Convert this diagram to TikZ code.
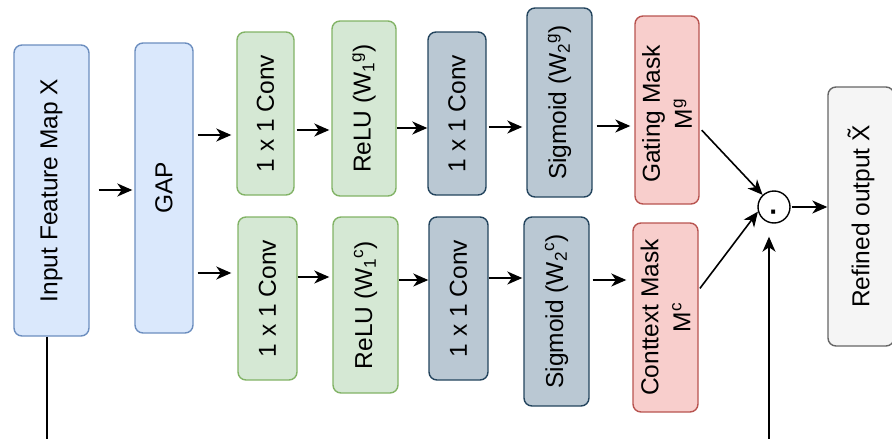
\documentclass[tikz,border=0pt]{standalone}
\usepackage{fontspec}
\setmainfont{Liberation Sans}
\usetikzlibrary{arrows.meta}

\definecolor{blueF}{HTML}{DAE8FC}\definecolor{blueD}{HTML}{6C8EBF}
\definecolor{greenF}{HTML}{D5E8D4}\definecolor{greenD}{HTML}{82B366}
\definecolor{slateF}{HTML}{BAC8D3}\definecolor{slateD}{HTML}{23445D}
\definecolor{redF}{HTML}{F8CECC}\definecolor{redD}{HTML}{B85450}
\definecolor{grayF}{HTML}{F5F5F5}\definecolor{grayD}{HTML}{666666}

\begin{document}
\begin{tikzpicture}[x=1pt,y=-1pt,
  box/.style={rectangle, rounded corners=8pt, line width=1.4pt, inner sep=0pt},
  bluebox/.style={box, fill=blueF, draw=blueD},
  greenbox/.style={box, fill=greenF, draw=greenD},
  slatebox/.style={box, fill=slateF, draw=slateD},
  redbox/.style={box, fill=redF, draw=redD},
  graybox/.style={box, fill=grayF, draw=grayD},
  lbl/.style={rotate=90, font=\fontsize{24.5}{32}\selectfont, align=center, inner sep=0pt},
  arr/.style={line width=1.6pt, -{Stealth[length=15pt,width=13pt,inset=4.5pt]}}]
\useasboundingbox (0,0) rectangle (892,439);
\clip (0,0) rectangle (892,439);

% input and pooling
\node[bluebox, minimum width=75pt, minimum height=291pt] (in) at (51.5,190.5) {};
\node[lbl] (in-t) at (in) {Input Feature Map X};
\node[bluebox, minimum width=58pt, minimum height=290pt] (gap) at (164,188) {};
\node[lbl] (gap-t) at (gap) {GAP};

% gating branch
\node[greenbox, minimum width=57pt, minimum height=163pt] (c1g) at (265.5,113.5) {};
\node[lbl] (c1g-t) at (c1g) {1 x 1 Conv};
\node[greenbox, minimum width=64pt, minimum height=175pt] (rg) at (364,108.5) {};
\node[lbl] (rg-t) at (rg) {ReLU (W\textsubscript{1}\textsuperscript{g})};
\node[slatebox, minimum width=58pt, minimum height=163pt] (c2g) at (457,113.5) {};
\node[lbl] (c2g-t) at (c2g) {1 x 1 Conv};
\node[slatebox, minimum width=65pt, minimum height=189pt] (sg) at (559.5,102.5) {};
\node[lbl] (sg-t) at (sg) {Sigmoid (W\textsubscript{2}\textsuperscript{g})};
\node[redbox, minimum width=64pt, minimum height=188pt] (gm) at (667,110) {};
\node[lbl] (gm-t) at ([yshift=-4pt]gm.center) {Gating Mask\\M\textsuperscript{g}};

% context branch
\node[greenbox, minimum width=59pt, minimum height=163pt] (c1c) at (267.5,298.5) {};
\node[lbl] (c1c-t) at (c1c) {1 x 1 Conv};
\node[greenbox, minimum width=65pt, minimum height=176pt] (rc) at (365.5,305) {};
\node[lbl] (rc-t) at (rc) {ReLU (W\textsubscript{1}\textsuperscript{c})};
\node[slatebox, minimum width=59pt, minimum height=163pt] (c2c) at (458.5,298.5) {};
\node[lbl] (c2c-t) at (c2c) {1 x 1 Conv};
\node[slatebox, minimum width=65pt, minimum height=189pt] (sc) at (556.5,311.5) {};
\node[lbl] (sc-t) at (sc) {Sigmoid (W\textsubscript{2}\textsuperscript{c})};
\node[redbox, minimum width=65pt, minimum height=189pt] (cm) at (665.5,317.5) {};
\node[lbl] (cm-t) at (cm) {Conttext Mask\\M\textsuperscript{c}};

% fusion and output
\node[circle, draw, line width=1.4pt, fill=white, minimum size=32pt, inner sep=0pt] (dot) at (774,207) {};
\node[font=\fontsize{28}{28}\selectfont\bfseries, inner sep=0pt, anchor=center] (dot-t) at ([yshift=-9pt]dot.center) {·};
\node[graybox, minimum width=66pt, minimum height=259pt] (out) at (861,216.5) {};
\node[lbl] (out-t) at (out) {Refined output \~{X}};

% connectors
\draw[arr, shorten <=9pt, shorten >=2pt] (in.east |- 0,190) -- (gap.west |- 0,190);
\draw[arr, shorten <=4pt, shorten >=5pt] (gap.east |- 0,135) -- (c1g.west |- 0,135);
\draw[arr, shorten <=4pt, shorten >=6pt] (gap.east |- 0,273) -- (c1c.west |- 0,273);
\draw[arr, shorten <=2pt, shorten >=2pt] (c1g.east |- 0,130) -- (rg.west |- 0,130);
\draw[arr] (rg.east |- 0,128) -- (c2g.west |- 0,128);
\draw[arr, shorten <=2pt, shorten >=4pt] (c2g.east |- 0,127) -- (sg.west |- 0,127);
\draw[arr, shorten <=4pt, shorten >=4pt] (sg.east |- 0,126) -- (gm.west |- 0,126);
\draw[arr, shorten >=3pt] (c1c.east |- 0,277) -- (rc.west |- 0,277);
\draw[arr] (rc.east |- 0,280) -- (c2c.west |- 0,280);
\draw[arr, shorten >=1pt] (c2c.east |- 0,278) -- (sc.west |- 0,278);
\draw[arr, shorten <=3pt, shorten >=6pt] (sc.east |- 0,280) -- (cm.west |- 0,280);
\draw[arr, shorten <=3pt] (gm.east |- 0,128) -- (dot);
\draw[arr, shorten <=2pt] (cm.east |- 0,290) -- (dot.196);
\draw[arr, shorten <=1pt] (dot.east) -- (out.west |- dot.east);

% skip path from the input around to the fusion node
\coordinate (skipL) at (47,470);
\coordinate (skipR) at (769,470);
\draw[arr, shorten >=13pt] (in.south -| skipL) -- (skipL) -- (skipR) -- (skipR |- dot.south);
\end{tikzpicture}
\end{document}
